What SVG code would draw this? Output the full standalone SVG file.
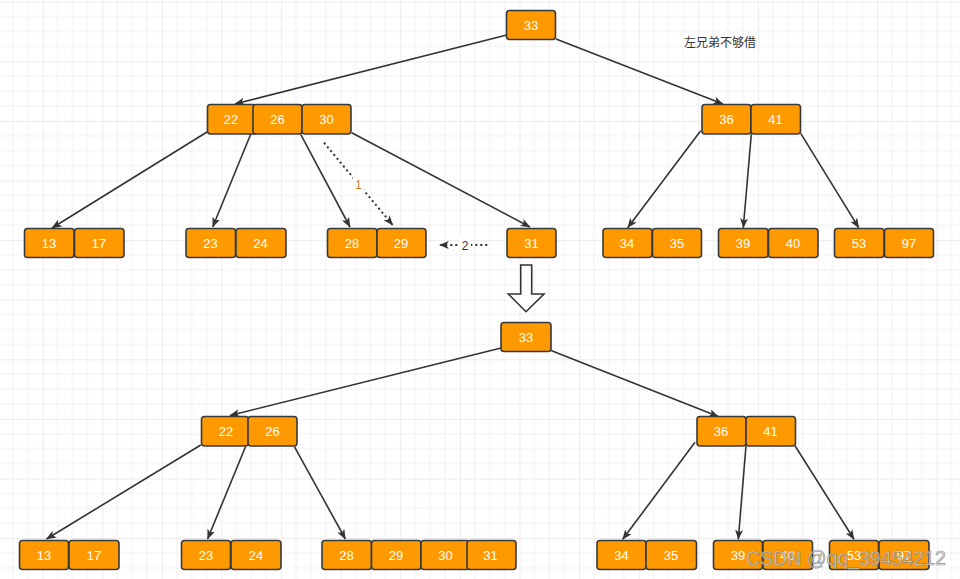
<svg xmlns="http://www.w3.org/2000/svg" width="960" height="579" viewBox="0 0 960 579">
<defs>
<pattern id="grid" patternUnits="userSpaceOnUse" x="42.7" y="1.7" width="59.6" height="59.6">
<rect width="59.6" height="59.6" fill="#ffffff"/>
<path d="M14.9 0V59.6M29.8 0V59.6M44.7 0V59.6M0 14.9H59.6M0 29.8H59.6M0 44.7H59.6" stroke="#f1f1f1" stroke-width="1" fill="none"/>
<path d="M0 0V59.6M0 0H59.6" stroke="#e6e6e6" stroke-width="1.4" fill="none"/>
</pattern>
<marker id="arr" viewBox="0 0 10 8" refX="9.5" refY="4" markerWidth="10" markerHeight="8" markerUnits="userSpaceOnUse" orient="auto">
<path d="M0,0 L10,4 L0,8 L2.5,4 z" fill="#333333"/>
</marker>
</defs>
<style>
.k{fill:#ff9900;stroke:#36393d;stroke-width:1.6}
.t{font-family:"Liberation Sans",Arial,sans-serif;font-size:13px;fill:#ffffff;text-anchor:middle}
.e{fill:none;stroke:#333333;stroke-width:1.6;marker-end:url(#arr)}
.d{fill:none;stroke:#333333;stroke-width:2;stroke-dasharray:2 3;marker-end:url(#arr)}
</style>
<rect width="960" height="579" fill="url(#grid)"/>

<g id="edges">
<line class="e" x1="506.7" y1="35" x2="235" y2="104"/>
<line class="e" x1="556" y1="39" x2="723" y2="104"/>
<line class="e" x1="207" y1="132" x2="52" y2="228"/>
<line class="e" x1="250.7" y1="134.3" x2="212.7" y2="227"/>
<line class="e" x1="300.7" y1="134.3" x2="350" y2="227"/>
<line class="e" x1="351.7" y1="132.7" x2="530" y2="227"/>
<line class="e" x1="700.7" y1="130.7" x2="627.7" y2="227.7"/>
<line class="e" x1="751.3" y1="134.3" x2="743.3" y2="227.7"/>
<line class="e" x1="800.7" y1="133.3" x2="858.7" y2="227.7"/>
<line class="d" x1="324" y1="142.7" x2="392.7" y2="225"/>
<line class="d" x1="487.3" y1="245" x2="439.3" y2="245"/>
<line class="e" x1="501" y1="348" x2="230" y2="415.5"/>
<line class="e" x1="551" y1="350.5" x2="718.3" y2="416.5"/>
<line class="e" x1="200.8" y1="445" x2="46.5" y2="539"/>
<line class="e" x1="245.5" y1="446.7" x2="207.6" y2="539"/>
<line class="e" x1="294.4" y1="446.7" x2="345.4" y2="539"/>
<line class="e" x1="695" y1="442.3" x2="622.7" y2="539.3"/>
<line class="e" x1="746" y1="445.7" x2="738.3" y2="539.3"/>
<line class="e" x1="795" y1="445.7" x2="854" y2="539.3"/>
</g>

<g id="edge-labels">
<rect x="353" y="176" width="11" height="15" fill="#ffffff"/>
<text x="358.3" y="188.5" font-family="Liberation Sans,Arial,sans-serif" font-size="12" fill="#c8861e" text-anchor="middle">1</text>
<rect x="459" y="237" width="12" height="15" fill="#ffffff"/>
<text x="465" y="249.5" font-family="Liberation Sans,Arial,sans-serif" font-size="12" fill="#333333" text-anchor="middle">2</text>
</g>

<g id="note">
<text x="684" y="47" font-family="'Noto Sans CJK SC',sans-serif" font-size="12" fill="#333333">左兄弟不够借</text>
</g>

<g id="transition-arrow">
<path d="M520.7,265 H531.7 V294 H544 L526,311.7 L508.3,294 H520.7 Z" fill="#ffffff" stroke="#333333" stroke-width="1.6" stroke-linejoin="miter"/>
</g>

<g id="top-root">
<rect class="k" x="506.5" y="10.5" width="49" height="29" rx="3"/><text class="t" x="531" y="29.5">33</text>
</g>
<g id="top-22-26-30">
<rect class="k" x="207.5" y="104.5" width="49" height="29.5" rx="3"/><text class="t" x="231" y="124">22</text>
<rect class="k" x="253" y="104.5" width="49" height="29.5" rx="3"/><text class="t" x="277.5" y="124">26</text>
<rect class="k" x="302" y="104.5" width="49" height="29.5" rx="3"/><text class="t" x="326.5" y="124">30</text>
</g>
<g id="top-36-41">
<rect class="k" x="702" y="104.5" width="49" height="29.5" rx="3"/><text class="t" x="726.5" y="124">36</text>
<rect class="k" x="751" y="104.5" width="49.5" height="29.5" rx="3"/><text class="t" x="775.5" y="124">41</text>
</g>
<g id="top-13-17">
<rect class="k" x="24.5" y="228.5" width="49.5" height="29" rx="3"/><text class="t" x="49" y="247.5">13</text>
<rect class="k" x="74.5" y="228.5" width="49.5" height="29" rx="3"/><text class="t" x="99" y="247.5">17</text>
</g>
<g id="top-23-24">
<rect class="k" x="186" y="228.5" width="49.5" height="29" rx="3"/><text class="t" x="210.5" y="247.5">23</text>
<rect class="k" x="236" y="228.5" width="50" height="29" rx="3"/><text class="t" x="260.5" y="247.5">24</text>
</g>
<g id="top-28-29">
<rect class="k" x="327.5" y="228.5" width="49.5" height="29" rx="3"/><text class="t" x="352" y="247.5">28</text>
<rect class="k" x="377" y="228.5" width="49" height="29" rx="3"/><text class="t" x="401" y="247.5">29</text>
</g>
<g id="top-31">
<rect class="k" x="507" y="228.5" width="49" height="29" rx="3"/><text class="t" x="531.5" y="247.5">31</text>
</g>
<g id="top-34-35">
<rect class="k" x="603" y="228.5" width="49" height="29" rx="3"/><text class="t" x="627" y="247.5">34</text>
<rect class="k" x="652.5" y="228.5" width="49" height="29" rx="3"/><text class="t" x="677" y="247.5">35</text>
</g>
<g id="top-39-40">
<rect class="k" x="718.5" y="228.5" width="49.5" height="29" rx="3"/><text class="t" x="743" y="247.5">39</text>
<rect class="k" x="768.5" y="228.5" width="49.5" height="29" rx="3"/><text class="t" x="793" y="247.5">40</text>
</g>
<g id="top-53-97">
<rect class="k" x="834.5" y="228.5" width="49.5" height="29" rx="3"/><text class="t" x="859" y="247.5">53</text>
<rect class="k" x="884.5" y="228.5" width="49" height="29" rx="3"/><text class="t" x="909" y="247.5">97</text>
</g>

<g id="bottom-root">
<rect class="k" x="501" y="322.5" width="50" height="29" rx="3"/><text class="t" x="526" y="341.5">33</text>
</g>
<g id="bottom-22-26">
<rect class="k" x="201.5" y="416.5" width="47" height="29.5" rx="3"/><text class="t" x="226" y="436">22</text>
<rect class="k" x="248" y="416.5" width="49" height="29.5" rx="3"/><text class="t" x="272.5" y="436">26</text>
</g>
<g id="bottom-36-41">
<rect class="k" x="697" y="416.5" width="49" height="29.5" rx="3"/><text class="t" x="721" y="436">36</text>
<rect class="k" x="746" y="416.5" width="49.5" height="29.5" rx="3"/><text class="t" x="770.5" y="436">41</text>
</g>
<g id="bottom-13-17">
<rect class="k" x="19.5" y="540.5" width="49" height="29" rx="3"/><text class="t" x="44" y="559.5">13</text>
<rect class="k" x="69" y="540.5" width="50" height="29" rx="3"/><text class="t" x="94" y="559.5">17</text>
</g>
<g id="bottom-23-24">
<rect class="k" x="181.5" y="540.5" width="49" height="29" rx="3"/><text class="t" x="206" y="559.5">23</text>
<rect class="k" x="231" y="540.5" width="50" height="29" rx="3"/><text class="t" x="256" y="559.5">24</text>
</g>
<g id="bottom-28-29-30-31">
<rect class="k" x="322" y="540.5" width="49.5" height="29" rx="3"/><text class="t" x="346.5" y="559.5">28</text>
<rect class="k" x="371.5" y="540.5" width="49.5" height="29" rx="3"/><text class="t" x="396" y="559.5">29</text>
<rect class="k" x="421" y="540.5" width="49" height="29" rx="3"/><text class="t" x="445.5" y="559.5">30</text>
<rect class="k" x="467" y="540.5" width="49" height="29" rx="3"/><text class="t" x="490.5" y="559.5">31</text>
</g>
<g id="bottom-34-35">
<rect class="k" x="597" y="540.5" width="49" height="29" rx="3"/><text class="t" x="621.5" y="559.5">34</text>
<rect class="k" x="646" y="540.5" width="50.5" height="29" rx="3"/><text class="t" x="671" y="559.5">35</text>
</g>
<g id="bottom-39-40">
<rect class="k" x="713.5" y="540.5" width="49" height="29" rx="3"/><text class="t" x="738" y="559.5">39</text>
<rect class="k" x="763" y="540.5" width="49.5" height="29" rx="3"/><text class="t" x="787.5" y="559.5">40</text>
</g>
<g id="bottom-53-97">
<rect class="k" x="829.5" y="540.5" width="49" height="29" rx="3"/><text class="t" x="854" y="559.5">53</text>
<rect class="k" x="879" y="540.5" width="50" height="29" rx="3"/><text class="t" x="904" y="559.5">97</text>
</g>

<g id="watermark">
<text x="746" y="565" font-family="'Liberation Sans',Arial,sans-serif" font-size="19.5" fill="#dddddd" fill-opacity="0.75" stroke="#7a7a7a" stroke-width="0.7" stroke-opacity="0.8">CSDN @qq_39454212</text>
</g>
</svg>
